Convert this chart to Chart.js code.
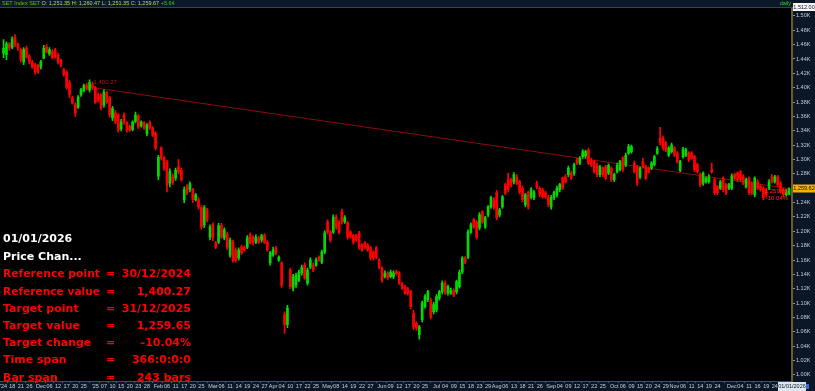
<!DOCTYPE html>
<html lang="en-US">

<head>
    <meta charset="UTF-8">
    <title>SET Index daily</title>
    <style>
        html, body { margin: 0; padding: 0; background: #000; }
        canvas { display: block; }
    </style>
</head>

<body>
    <canvas id="setchart" width="815" height="391"></canvas>
    <script src="https://cdn.jsdelivr.net/npm/chart.js"></script>
    <script>
        // trading calendar: weekdays from first to last bar, minus SET holidays
        const firstDay = '2024-11-13'
        const lastDay = '2025-12-31'
        const holidays = ['2024-12-05', '2024-12-10', '2024-12-31', '2025-01-01', '2025-02-12', '2025-04-07',
            '2025-04-14', '2025-04-15', '2025-05-01', '2025-05-05', '2025-05-12', '2025-06-02', '2025-06-03',
            '2025-07-10', '2025-07-28', '2025-08-11', '2025-08-12', '2025-10-13', '2025-10-23', '2025-12-05',
            '2025-12-10']

        // daily candles
        const opens = [1448, 1446, 1461, 1456, 1471, 1460, 1453, 1436, 1455, 1443,
            1436, 1432, 1431, 1429, 1441, 1457, 1447, 1450, 1452, 1445,
            1438, 1425, 1421, 1407, 1386, 1376, 1373, 1390, 1396, 1403,
            1397, 1404, 1400, 1390, 1390, 1376, 1393, 1386, 1358, 1365,
            1362, 1343, 1362, 1351, 1346, 1342, 1353, 1360, 1347, 1351,
            1336, 1351, 1344, 1337, 1277, 1316, 1302, 1296, 1267, 1276,
            1274, 1290, 1285, 1244, 1262, 1258, 1258, 1244, 1244, 1233,
            1209, 1230, 1192, 1209, 1184, 1185, 1208, 1191, 1196, 1167,
            1185, 1174, 1163, 1178, 1178, 1178, 1195, 1192, 1185, 1191,
            1188, 1194, 1185, 1156, 1167, 1177, 1160, 1156, 1084, 1070,
            1146, 1121, 1125, 1132, 1142, 1153, 1128, 1150, 1153, 1153,
            1164, 1157, 1171, 1213, 1199, 1199, 1220, 1213, 1227, 1213,
            1212, 1199, 1194, 1194, 1198, 1181, 1184, 1181, 1177, 1171,
            1177, 1160, 1149, 1137, 1142, 1137, 1137, 1144, 1142, 1127,
            1123, 1120, 1116, 1086, 1072, 1056, 1077, 1095, 1105, 1104,
            1088, 1091, 1107, 1116, 1128, 1114, 1114, 1118, 1116, 1123,
            1143, 1163, 1164, 1199, 1216, 1213, 1205, 1227, 1206, 1223,
            1234, 1244, 1254, 1223, 1234, 1265, 1272, 1272, 1269, 1276,
            1269, 1260, 1237, 1254, 1248, 1247, 1267, 1260, 1258, 1254,
            1248, 1234, 1247, 1251, 1258, 1274, 1276, 1279, 1281, 1281,
            1300, 1295, 1304, 1305, 1313, 1299, 1297, 1292, 1279, 1288,
            1290, 1281, 1288, 1272, 1283, 1286, 1302, 1292, 1309, 1311,
            1295, 1290, 1276, 1297, 1290, 1288, 1288, 1293, 1309, 1330,
            1330, 1323, 1306, 1311, 1316, 1309, 1285, 1304, 1306, 1309,
            1309, 1304, 1293, 1279, 1267, 1269, 1269, 1286, 1272, 1262,
            1260, 1274, 1265, 1260, 1260, 1279, 1281, 1283, 1276, 1262,
            1274, 1267, 1251, 1269, 1263, 1260, 1258, 1260, 1276, 1269,
            1276, 1267, 1258, 1251, 1251.35]
        const highs = [1467, 1464, 1463, 1471, 1474, 1462, 1455, 1456, 1458, 1446,
            1438, 1434, 1433, 1438, 1459, 1460, 1456, 1453, 1455, 1448,
            1440, 1427, 1424, 1410, 1388, 1379, 1389, 1399, 1405, 1406,
            1411, 1408, 1402, 1393, 1392, 1397, 1395, 1388, 1374, 1368,
            1364, 1356, 1365, 1353, 1348, 1354, 1366, 1363, 1354, 1353,
            1350, 1354, 1346, 1339, 1306, 1318, 1304, 1299, 1287, 1280,
            1288, 1300, 1288, 1262, 1265, 1269, 1260, 1253, 1247, 1236,
            1236, 1232, 1209, 1212, 1186, 1211, 1211, 1205, 1199, 1191,
            1188, 1177, 1177, 1181, 1180, 1194, 1198, 1194, 1195, 1193,
            1196, 1197, 1187, 1172, 1178, 1179, 1166, 1158, 1088, 1097,
            1149, 1140, 1142, 1146, 1153, 1156, 1149, 1163, 1156, 1163,
            1166, 1174, 1201, 1216, 1201, 1223, 1223, 1215, 1231, 1222,
            1214, 1201, 1196, 1196, 1200, 1183, 1186, 1183, 1179, 1173,
            1179, 1162, 1151, 1145, 1144, 1146, 1145, 1146, 1144, 1129,
            1125, 1122, 1118, 1090, 1074, 1069, 1103, 1112, 1118, 1107,
            1101, 1112, 1118, 1131, 1131, 1125, 1121, 1120, 1132, 1146,
            1165, 1165, 1202, 1212, 1218, 1215, 1226, 1229, 1221, 1236,
            1249, 1247, 1257, 1232, 1250, 1267, 1281, 1274, 1282, 1279,
            1271, 1263, 1253, 1256, 1261, 1257, 1270, 1262, 1260, 1256,
            1250, 1250, 1256, 1263, 1267, 1276, 1279, 1291, 1284, 1295,
            1302, 1304, 1314, 1313, 1316, 1302, 1299, 1295, 1292, 1290,
            1292, 1294, 1290, 1281, 1295, 1299, 1304, 1309, 1321, 1320,
            1298, 1292, 1290, 1302, 1292, 1290, 1297, 1306, 1318, 1345,
            1333, 1325, 1318, 1323, 1318, 1311, 1299, 1317, 1316, 1311,
            1311, 1306, 1295, 1281, 1283, 1276, 1279, 1295, 1274, 1264,
            1271, 1276, 1267, 1267, 1280, 1281, 1283, 1285, 1279, 1274,
            1276, 1269, 1276, 1272, 1265, 1262, 1260, 1272, 1279, 1278,
            1278, 1270, 1260, 1258, 1260.47]
        const lows = [1442, 1439, 1452, 1454, 1457, 1452, 1436, 1432, 1441, 1433,
            1427, 1419, 1420, 1426, 1440, 1448, 1445, 1440, 1441, 1433,
            1429, 1416, 1398, 1386, 1377, 1360, 1371, 1388, 1394, 1397,
            1394, 1397, 1378, 1380, 1369, 1373, 1378, 1359, 1354, 1350,
            1338, 1340, 1349, 1338, 1339, 1340, 1351, 1343, 1345, 1342,
            1333, 1342, 1332, 1313, 1272, 1299, 1285, 1255, 1262, 1265,
            1271, 1280, 1270, 1240, 1251, 1255, 1240, 1242, 1231, 1203,
            1205, 1213, 1188, 1187, 1176, 1183, 1190, 1188, 1175, 1164,
            1157, 1157, 1160, 1168, 1172, 1176, 1182, 1181, 1183, 1183,
            1185, 1183, 1172, 1153, 1165, 1167, 1158, 1122, 1058, 1066,
            1120, 1117, 1122, 1130, 1139, 1133, 1125, 1148, 1144, 1151,
            1158, 1155, 1169, 1196, 1185, 1197, 1203, 1196, 1210, 1211,
            1189, 1190, 1182, 1186, 1175, 1172, 1176, 1172, 1160, 1160,
            1162, 1148, 1129, 1135, 1133, 1135, 1134, 1139, 1126, 1119,
            1112, 1111, 1092, 1063, 1062, 1050, 1074, 1093, 1102, 1078,
            1085, 1088, 1104, 1113, 1112, 1111, 1112, 1109, 1113, 1121,
            1141, 1155, 1162, 1197, 1204, 1189, 1202, 1211, 1204, 1220,
            1232, 1231, 1216, 1220, 1232, 1251, 1255, 1262, 1266, 1265,
            1252, 1241, 1234, 1231, 1245, 1244, 1259, 1248, 1246, 1246,
            1234, 1231, 1244, 1248, 1255, 1258, 1267, 1276, 1272, 1278,
            1293, 1293, 1302, 1302, 1293, 1290, 1281, 1276, 1276, 1276,
            1272, 1279, 1269, 1269, 1281, 1284, 1283, 1290, 1307, 1309,
            1281, 1264, 1273, 1288, 1272, 1281, 1286, 1291, 1307, 1320,
            1313, 1311, 1304, 1309, 1304, 1295, 1283, 1302, 1304, 1297,
            1300, 1283, 1281, 1262, 1264, 1267, 1267, 1281, 1251, 1251,
            1258, 1255, 1251, 1258, 1258, 1272, 1269, 1269, 1265, 1260,
            1251, 1251, 1248, 1258, 1256, 1244, 1248, 1258, 1267, 1267,
            1262, 1253, 1248, 1249, 1251.35]
        const closes = [1455, 1461, 1455, 1468, 1460, 1455, 1439, 1453, 1443, 1436,
            1429, 1422, 1422, 1436, 1455, 1450, 1453, 1442, 1443, 1436,
            1431, 1418, 1400, 1390, 1379, 1365, 1387, 1397, 1403, 1399,
            1407, 1400.27, 1380, 1383, 1372, 1394, 1380, 1362, 1371, 1352,
            1341, 1352, 1352, 1341, 1341, 1352, 1362, 1345, 1352, 1344,
            1348, 1344, 1334, 1316, 1303, 1302, 1288, 1264, 1283, 1268,
            1285, 1283, 1272, 1258, 1254, 1266, 1244, 1251, 1234, 1206,
            1233, 1216, 1206, 1191, 1178, 1208, 1192, 1202, 1178, 1188,
            1160, 1160, 1174, 1170, 1174, 1191, 1184, 1184, 1192, 1185,
            1194, 1185, 1174, 1170, 1174, 1170, 1164, 1125, 1070, 1093,
            1123, 1137, 1139, 1143, 1150, 1135, 1146, 1160, 1146, 1160,
            1160, 1171, 1198, 1199, 1188, 1220, 1206, 1198, 1213, 1219,
            1192, 1192, 1185, 1188, 1178, 1174, 1178, 1174, 1163, 1163,
            1164, 1150, 1132, 1142, 1135, 1143, 1142, 1141, 1128, 1121,
            1114, 1114, 1095, 1067, 1065, 1067, 1100, 1109, 1116, 1081,
            1098, 1109, 1116, 1128, 1114, 1123, 1118, 1111, 1130, 1143,
            1163, 1157, 1199, 1209, 1206, 1192, 1223, 1213, 1219, 1234,
            1247, 1233, 1219, 1230, 1248, 1253, 1258, 1265, 1279, 1267,
            1255, 1244, 1251, 1234, 1258, 1254, 1262, 1251, 1248, 1248,
            1237, 1247, 1254, 1260, 1265, 1260, 1269, 1288, 1274, 1293,
            1295, 1302, 1311, 1311, 1295, 1292, 1283, 1279, 1290, 1279,
            1274, 1292, 1272, 1279, 1292, 1297, 1286, 1306, 1318, 1318,
            1283, 1267, 1288, 1290, 1274, 1283, 1295, 1304, 1315, 1323,
            1316, 1313, 1316, 1320, 1306, 1297, 1297, 1315, 1313, 1300,
            1302, 1286, 1283, 1265, 1281, 1274, 1276, 1283, 1254, 1254,
            1269, 1258, 1254, 1265, 1277, 1274, 1272, 1272, 1267, 1272,
            1254, 1254, 1274, 1260, 1258, 1247, 1251, 1269, 1269, 1276,
            1265, 1255, 1251, 1254, 1259.65]

        // price change study
        const refDate = '2024-12-30'
        const targetDate = '2025-12-31'
        const summaryLabels = ['Reference point', 'Reference value', 'Target point', 'Target value',
            'Target change', 'Time span', 'Bar span']
        const summaryValues = ['30/12/2024', '1,400.27', '31/12/2025', '1,259.65', '-10.04%', '366:0:0:0', '243 bars']

        // axis labels
        const yTicks = [1000, 1020, 1040, 1060, 1080, 1100, 1120, 1140, 1160, 1180, 1200, 1220, 1240,
            1260, 1280, 1300, 1320, 1340, 1360, 1380, 1400, 1420, 1440, 1460, 1480, 1500]
        const tickDates = ['2024-11-13', '2024-11-18', '2024-11-21', '2024-11-26',
            '2024-12-02', '2024-12-06', '2024-12-12', '2024-12-17', '2024-12-20', '2024-12-25',
            '2025-01-02', '2025-01-07', '2025-01-10', '2025-01-15', '2025-01-20', '2025-01-23', '2025-01-28',
            '2025-02-03', '2025-02-06', '2025-02-11', '2025-02-17', '2025-02-20', '2025-02-25',
            '2025-03-03', '2025-03-06', '2025-03-11', '2025-03-14', '2025-03-19', '2025-03-24', '2025-03-27',
            '2025-04-01', '2025-04-04', '2025-04-10', '2025-04-17', '2025-04-22', '2025-04-25',
            '2025-05-02', '2025-05-08', '2025-05-14', '2025-05-19', '2025-05-22', '2025-05-27',
            '2025-06-04', '2025-06-09', '2025-06-12', '2025-06-17', '2025-06-20', '2025-06-25',
            '2025-07-01', '2025-07-04', '2025-07-09', '2025-07-15', '2025-07-18', '2025-07-23', '2025-07-29',
            '2025-08-01', '2025-08-06', '2025-08-13', '2025-08-18', '2025-08-21', '2025-08-26',
            '2025-09-01', '2025-09-04', '2025-09-09', '2025-09-12', '2025-09-17', '2025-09-22', '2025-09-25',
            '2025-10-01', '2025-10-06', '2025-10-09', '2025-10-15', '2025-10-20', '2025-10-24', '2025-10-29',
            '2025-11-03', '2025-11-06', '2025-11-11', '2025-11-14', '2025-11-19', '2025-11-24',
            '2025-12-01', '2025-12-04', '2025-12-11', '2025-12-16', '2025-12-19', '2025-12-24']
        const tickTexts = ["'24", '18', '21', '26',
            'Dec', '06', '12', '17', '20', '25',
            "'25", '07', '10', '15', '20', '23', '28',
            'Feb', '06', '11', '17', '20', '25',
            'Mar', '06', '11', '14', '19', '24', '27',
            'Apr', '04', '10', '17', '22', '25',
            'May', '08', '14', '19', '22', '27',
            'Jun', '09', '12', '17', '20', '25',
            'Jul', '04', '09', '15', '18', '23', '29',
            'Aug', '06', '13', '18', '21', '26',
            'Sep', '04', '09', '12', '17', '22', '25',
            'Oct', '06', '09', '15', '20', '24', '29',
            'Nov', '06', '11', '14', '19', '24',
            'Dec', '04', '11', '16', '19', '24']

        // build the list of trading days
        const dates = []
        let d = new Date(firstDay + 'T00:00:00Z')
        const end = new Date(lastDay + 'T00:00:00Z')
        while (d <= end) {
            const iso = d.toISOString().slice(0, 10)
            const wd = d.getUTCDay()
            if (wd !== 0 && wd !== 6 && !holidays.includes(iso)) dates.push(iso)
            d = new Date(d.getTime() + 86400000)
        }

        const UP = '#00dc00'
        const DOWN = '#ff0000'
        const candleColors = opens.map((o, i) => closes[i] >= o ? UP : DOWN)
        const refIdx = dates.indexOf(refDate)
        const targetIdx = dates.indexOf(targetDate)

        const tickText = {}
        tickDates.forEach((td, k) => { tickText[dates.indexOf(td)] = tickTexts[k] })

        const smallFont = '"Liberation Sans", Arial, sans-serif'

        const decor = {
            id: 'decor',
            beforeDraw(chart) {
                const { ctx, chartArea: a, width, height } = chart
                ctx.save()
                ctx.fillStyle = '#000'
                ctx.fillRect(0, 0, width, height)
                ctx.fillStyle = '#0b1727'
                ctx.fillRect(a.right, 0, width - a.right, height)
                ctx.fillRect(0, a.bottom, a.right, height - a.bottom)
                ctx.restore()
            },
            afterDraw(chart) {
                const { ctx, chartArea: a, width, height } = chart
                const xs = chart.scales.x
                const ys = chart.scales.y
                ctx.save()

                // header strip
                ctx.fillStyle = '#0c1828'
                ctx.fillRect(0, 0, width, 7)
                ctx.strokeStyle = '#2e4460'
                ctx.lineWidth = 1
                ctx.beginPath()
                ctx.moveTo(0, 7.5)
                ctx.lineTo(a.right, 7.5)
                ctx.stroke()
                ctx.font = '5.5px ' + smallFont
                ctx.textBaseline = 'middle'
                ctx.textAlign = 'left'
                ctx.fillStyle = '#6fbf00'
                ctx.fillText('SET Index SET', 2, 3.8)
                let hx = 2 + ctx.measureText('SET Index SET ').width
                ctx.fillStyle = '#b8d860'
                const ohlcText = 'O: 1,251.35 H: 1,260.47 L: 1,251.35 C: 1,259.67'
                ctx.fillText(ohlcText, hx, 3.8)
                hx += ctx.measureText(ohlcText + ' ').width
                ctx.fillStyle = '#22d022'
                ctx.fillText('+5.64', hx, 3.8)
                ctx.textAlign = 'right'
                ctx.fillText('daily', a.right - 1, 3.5)

                // top price box on the axis
                ctx.fillStyle = '#f4f6f8'
                ctx.fillRect(a.right + 1, 3, width - a.right - 1, 8)
                ctx.fillStyle = '#0a1220'
                ctx.textAlign = 'center'
                ctx.fillText('1,512.00', (a.right + width) / 2 + 0.5, 7.2)

                // last price box
                const lastY = ys.getPixelForValue(closes[closes.length - 1])
                ctx.fillStyle = '#f2b000'
                ctx.fillRect(a.right + 1, lastY - 4, width - a.right - 1, 8)
                ctx.fillStyle = '#101010'
                ctx.fillText('1,259.62', (a.right + width) / 2 + 0.5, lastY + 0.2)

                // date box on the time axis
                ctx.fillStyle = '#dde5ef'
                ctx.fillRect(778, a.bottom + 1, 28, height - a.bottom - 1)
                ctx.fillStyle = '#3a6ad0'
                ctx.fillRect(806, a.bottom + 3, 3, 5)
                ctx.fillStyle = '#0b1727'
                ctx.fillText('01/01/2026', 792, a.bottom + 5.5)

                // price change study labels
                const rx = xs.getPixelForValue(refIdx)
                const ry = ys.getPixelForValue(closes[refIdx])
                ctx.font = '6px ' + smallFont
                ctx.textAlign = 'left'
                ctx.fillStyle = '#b01414'
                ctx.fillText(summaryValues[1], rx + 1, ry - 5)
                const tx = xs.getPixelForValue(targetIdx)
                const ty = ys.getPixelForValue(closes[targetIdx])
                ctx.textAlign = 'right'
                ctx.fillStyle = '#ff2a2a'
                ctx.fillText(summaryValues[3], tx - 1, ty + 3)
                ctx.fillText(summaryValues[4], tx - 1, ty + 10)

                // summary block
                ctx.font = 'bold 11px "DejaVu Sans", sans-serif'
                ctx.textAlign = 'left'
                ctx.fillStyle = '#ffffff'
                ctx.fillText('01/01/2026', 3, 239.5)
                ctx.fillText('Price Chan...', 3, 257)
                ctx.fillStyle = '#ff0000'
                summaryLabels.forEach((lbl, k) => {
                    const y = 274.5 + k * 17.2
                    ctx.textAlign = 'left'
                    ctx.fillText(lbl, 3, y, 97)
                    ctx.fillText('=', 106, y)
                    ctx.textAlign = 'right'
                    ctx.fillText(summaryValues[k], 191, y)
                })
                ctx.restore()
            }
        }

        const ctx = document.getElementById('setchart').getContext('2d')
        new Chart(ctx, {
            type: 'bar',
            data: {
                datasets: [
                    {
                        label: 'Body',
                        data: dates.map((dt, i) => ({ x: i, y: [opens[i], closes[i]] })),
                        backgroundColor: candleColors,
                        barThickness: 2,
                        minBarLength: 1,
                        grouped: false,
                        order: 0
                    },
                    {
                        label: 'Wick',
                        data: dates.map((dt, i) => ({ x: i, y: [lows[i], highs[i]] })),
                        backgroundColor: candleColors,
                        barThickness: 1,
                        grouped: false,
                        order: 1
                    },
                    {
                        type: 'line',
                        label: 'Price change',
                        data: [{ x: refIdx, y: closes[refIdx] }, { x: targetIdx, y: closes[targetIdx] }],
                        borderColor: '#8a0c0c',
                        borderWidth: 1,
                        pointRadius: 0,
                        order: 2
                    }
                ]
            },
            options: {
                responsive: false,
                animation: false,
                events: [],
                layout: { padding: { top: 7, left: 0, right: 0, bottom: 0 } },
                plugins: { legend: { display: false }, tooltip: { enabled: false } },
                scales: {
                    x: {
                        type: 'linear',
                        offset: false,
                        min: -1,
                        max: dates.length,
                        afterBuildTicks: scale => {
                            scale.ticks = tickDates.map(td => ({ value: dates.indexOf(td) }))
                        },
                        afterFit: scale => { scale.height = 10 },
                        grid: { drawOnChartArea: false, tickLength: 2, color: '#4a6482' },
                        border: { color: '#34506e', width: 1 },
                        ticks: {
                            autoSkip: false,
                            maxRotation: 0,
                            padding: 0,
                            color: '#c6ced8',
                            font: { size: 5.5, family: smallFont },
                            callback: v => tickText[v] || ''
                        }
                    },
                    y: {
                        position: 'right',
                        min: 991.6,
                        max: 1512.4,
                        afterBuildTicks: scale => {
                            scale.ticks = yTicks.map(v => ({ value: v }))
                        },
                        afterFit: scale => { scale.width = 23 },
                        grid: { drawOnChartArea: false, tickLength: 3, color: '#8a96a4' },
                        border: { color: '#6d5c2c', width: 2 },
                        ticks: {
                            padding: 1,
                            color: '#c6ced8',
                            font: { size: 5.5, family: smallFont },
                            callback: v => (v / 1000).toFixed(2) + 'K'
                        }
                    }
                }
            },
            plugins: [decor]
        })
    </script>
</body>

</html>
